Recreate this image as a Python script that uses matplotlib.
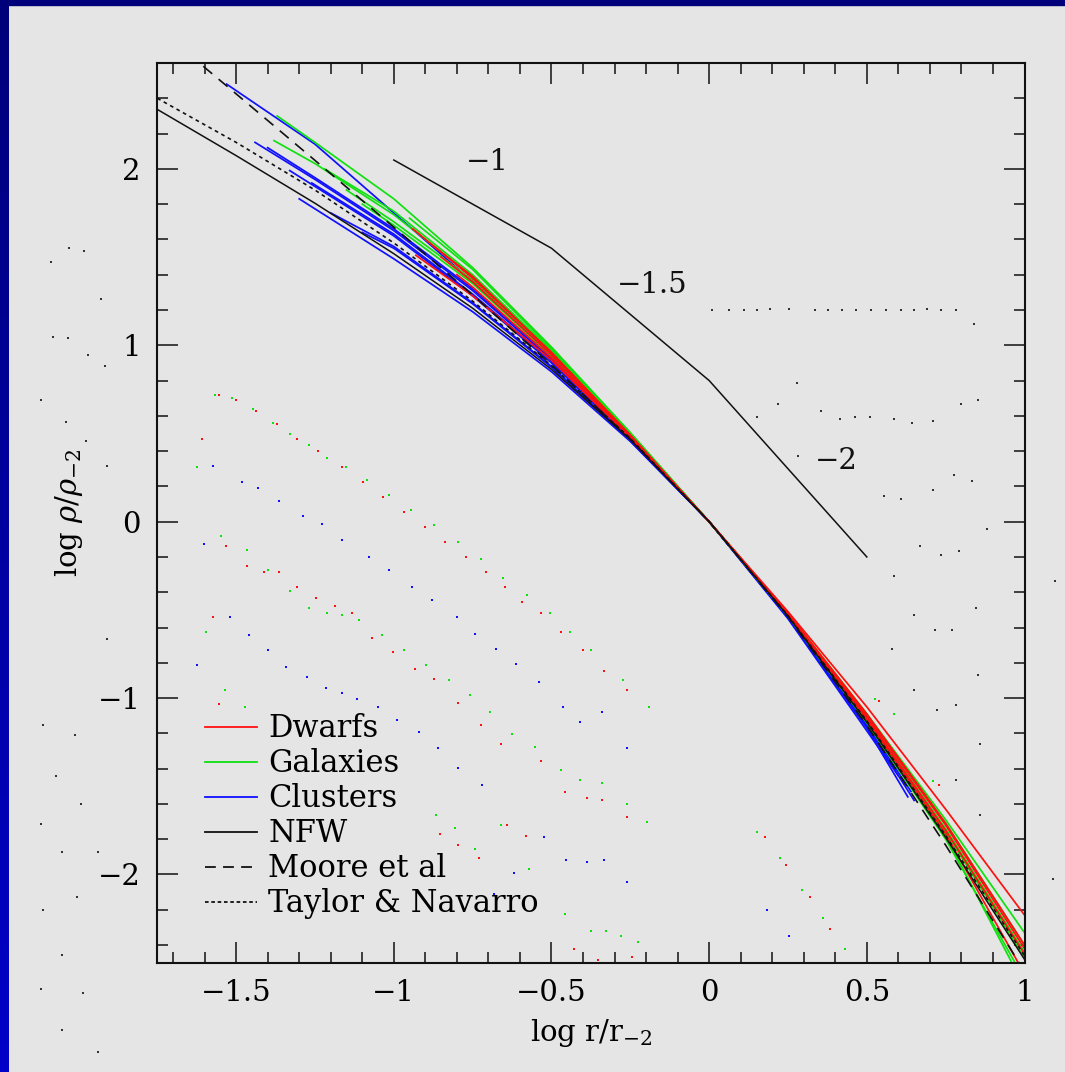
import numpy as np
import matplotlib
matplotlib.use("Agg")
import matplotlib.pyplot as plt
from matplotlib.lines import Line2D
from matplotlib.patches import Rectangle

plt.rcParams['font.family'] = ['DejaVu Serif']
plt.rcParams['mathtext.fontset'] = 'dejavuserif'

# ---------------- data (log r/r-2, log rho/rho-2) ----------------
dwarf_x = [[-0.94, -0.75, -0.5, -0.25, 0, 0.25, 0.5, 0.75, 1.0],
           [-0.93, -0.75, -0.5, -0.25, 0, 0.25, 0.5, 0.75, 1.0],
           [-0.85, -0.75, -0.5, -0.25, 0, 0.25, 0.5, 0.75, 1.0],
           [-0.80, -0.75, -0.5, -0.25, 0, 0.25, 0.5, 0.75, 0.98],
           [-0.88, -0.75, -0.5, -0.25, 0, 0.25, 0.5, 0.75, 1.0]]
dwarf_y = [[1.66, 1.38, 0.96, 0.49, 0, -0.51, -1.05, -1.63, -2.23],
           [1.51, 1.28, 0.915, 0.475, 0, -0.52, -1.09, -1.71, -2.40],
           [1.50, 1.36, 0.945, 0.485, 0, -0.525, -1.11, -1.75, -2.45],
           [1.40, 1.33, 0.93, 0.48, 0, -0.53, -1.12, -1.77, -2.50],
           [1.57, 1.39, 0.955, 0.49, 0, -0.52, -1.10, -1.72, -2.42]]

galaxy_x = [[-1.37, -1.25, -1.0, -0.75, -0.5, -0.25, 0, 0.25, 0.5, 0.75, 1.0],
            [-1.38, -1.25, -1.0, -0.75, -0.5, -0.25, 0, 0.25, 0.5, 0.75, 1.0],
            [-1.22, -1.0, -0.75, -0.5, -0.25, 0, 0.25, 0.5, 0.75, 0.96],
            [-1.10, -1.0, -0.75, -0.5, -0.25, 0, 0.25, 0.5, 0.75, 1.0],
            [-0.95, -0.75, -0.5, -0.25, 0, 0.25, 0.5, 0.75, 1.0],
            [-1.15, -1.0, -0.75, -0.5, -0.25, 0, 0.25, 0.5, 0.75, 0.97]]
galaxy_y = [[2.30, 2.15, 1.83, 1.44, 0.99, 0.505, 0, -0.52, -1.09, -1.71, -2.40],
            [2.16, 2.03, 1.74, 1.39, 0.965, 0.49, 0, -0.525, -1.11, -1.74, -2.44],
            [2.00, 1.76, 1.40, 0.97, 0.495, 0, -0.53, -1.13, -1.78, -2.50],
            [1.80, 1.68, 1.35, 0.94, 0.485, 0, -0.525, -1.115, -1.76, -2.47],
            [1.72, 1.43, 0.98, 0.50, 0, -0.52, -1.09, -1.69, -2.33],
            [1.88, 1.70, 1.37, 0.95, 0.49, 0, -0.535, -1.14, -1.80, -2.50]]

cluster_x = [[-1.53, -1.25, -1.0, -0.75, -0.5, -0.25, 0, 0.25, 0.5, 0.62],
             [-1.44, -1.25, -1.0, -0.75, -0.5, -0.25, 0, 0.25, 0.5, 0.64],
             [-1.30, -1.0, -0.75, -0.5, -0.25, 0, 0.25, 0.5, 0.63],
             [-1.20, -1.0, -0.75, -0.5, -0.25, 0, 0.25, 0.5, 0.65],
             [-1.33, -1.0, -0.75, -0.5, -0.25, 0, 0.25, 0.5, 0.60],
             [-1.26, -1.0, -0.75, -0.5, -0.25, 0, 0.25, 0.55],
             [-1.10, -1.0, -0.75, -0.5, -0.25, 0, 0.25, 0.60],
             [-1.40, -1.25, -1.0, -0.75, -0.5, -0.25, 0, 0.25, 0.5, 0.58]]
cluster_y = [[2.48, 2.14, 1.75, 1.36, 0.95, 0.49, 0, -0.53, -1.12, -1.42],
             [2.15, 1.94, 1.65, 1.31, 0.92, 0.475, 0, -0.535, -1.15, -1.53],
             [1.83, 1.49, 1.19, 0.85, 0.455, 0, -0.545, -1.17, -1.56],
             [1.75, 1.56, 1.24, 0.88, 0.465, 0, -0.54, -1.16, -1.58],
             [1.99, 1.62, 1.28, 0.90, 0.47, 0, -0.53, -1.14, -1.40],
             [1.92, 1.63, 1.29, 0.91, 0.475, 0, -0.535, -1.27],
             [1.64, 1.55, 1.235, 0.875, 0.46, 0, -0.55, -1.44],
             [2.12, 1.95, 1.66, 1.32, 0.93, 0.48, 0, -0.53, -1.13, -1.33]]

model_x = [-1.75, -1.5, -1.25, -1.0, -0.75, -0.5, -0.25, 0, 0.25, 0.5, 0.75, 1.0]
nfw_y = [2.337, 2.075, 1.805, 1.519, 1.210, 0.863, 0.465, 0, -0.535, -1.137, -1.790, -2.481]
moore_y = [2.80, 2.425, 2.048, 1.669, 1.285, 0.889, 0.468, 0, -0.539, -1.155, -1.834, -2.549]
tn_y = [2.40, 2.15, 1.88, 1.58, 1.25, 0.885, 0.472, 0, -0.533, -1.13, -1.78, -2.46]

slope_x = [-1.0, -0.5, 0.0, 0.5]
slope_y = [2.05, 1.55, 0.80, -0.20]
slope_labels = ["\u22121", "\u22121.5", "\u22122"]
slope_label_x = [-0.703, -0.182, 0.404]
slope_label_y = [2.036, 1.342, 0.343]

legend_labels = ["Dwarfs", "Galaxies", "Clusters", "NFW", "Moore et al", "Taylor & Navarro"]
xtick_vals = [-1.5, -1, -0.5, 0, 0.5, 1]
xtick_labels = ["\u22121.5", "\u22121", "\u22120.5", "0", "0.5", "1"]
ytick_vals = [-2, -1, 0, 1, 2]
ytick_labels = ["\u22122", "\u22121", "0", "1", "2"]

# stray dots seen in the picture (data units)
green_dot_x = [-1.566, -1.513, -1.448, -1.382, -1.329, -1.270, -1.211, -1.151, -1.086, -1.015, -0.945, -0.873,
               -0.796, -0.725, -0.654, -0.577, -0.505, -0.440, -0.375, -0.274, -0.192, 0.153, 0.225, 0.295,
               0.361, 0.432, 0.526, 0.586, 0.710, -1.625, -1.549, -1.466, -1.400, -1.329, -1.270, -1.211,
               -1.163, -1.110, -1.039, -0.968, -0.897, -0.825, -0.759, -0.695, -0.624, -0.552, -0.470, -0.411,
               -0.340, -0.262, -0.197, -1.596, -1.536, -1.471, -0.866, -0.807, -0.743, -0.659, -0.570, -0.457,
               -0.375, -0.327, -0.280, -0.227]
green_dot_y = [0.720, 0.700, 0.638, 0.562, 0.499, 0.435, 0.362, 0.309, 0.235, 0.150, 0.065, -0.020,
               -0.116, -0.211, -0.317, -0.413, -0.519, -0.625, -0.730, -0.900, -1.048, -1.758, -1.907, -2.087,
               -2.244, -2.425, -1.006, -1.089, -1.471, 0.309, -0.084, -0.158, -0.275, -0.392, -0.487, -0.519,
               -0.530, -0.560, -0.645, -0.730, -0.815, -0.900, -0.983, -1.080, -1.206, -1.280, -1.408, -1.462,
               -1.482, -1.599, -1.705, -0.625, -0.953, -1.048, -1.663, -1.737, -1.854, -1.717, -1.969, -2.224,
               -2.319, -2.319, -2.351, -2.383]
red_dot_x = [-1.554, -1.501, -1.436, -1.371, -1.306, -1.241, -1.163, -1.098, -1.033, -0.968, -0.902, -0.837,
             -0.771, -0.707, -0.647, -0.594, -0.534, -0.469, -0.399, -0.334, -0.262, 0.177, 0.243, 0.319,
             0.384, 0.538, 0.728, -1.607, -1.531, -1.466, -1.412, -1.364, -1.306, -1.247, -1.187, -1.134,
             -1.068, -1.004, -0.932, -0.873, -0.796, -0.725, -0.659, -0.534, -0.457, -0.387, -0.340, -0.262,
             -1.573, -1.554, -0.855, -0.796, -0.730, -0.641, -0.582, -0.428, -0.244, -0.352]
red_dot_y = [0.720, 0.689, 0.626, 0.553, 0.468, 0.403, 0.309, 0.224, 0.139, 0.054, -0.029, -0.116,
             -0.201, -0.286, -0.371, -0.454, -0.519, -0.625, -0.730, -0.847, -0.953, -1.790, -1.949, -2.128,
             -2.308, -1.016, -1.493, 0.468, -0.137, -0.254, -0.286, -0.286, -0.371, -0.434, -0.477, -0.519,
             -0.657, -0.740, -0.836, -0.889, -1.029, -1.153, -1.261, -1.356, -1.535, -1.567, -1.578, -1.673,
             -0.541, -1.036, -1.769, -1.832, -1.907, -1.717, -1.779, -2.425, -2.466, -2.487]
blue_dot_x = [-1.573, -1.482, -1.430, -1.364, -1.287, -1.228, -1.163, -1.080, -1.015, -0.943, -0.878, -0.801,
              -0.742, -0.677, -0.612, -0.541, -0.464, -0.411, -0.340, -0.262, -0.262, -0.453, -0.387, -0.334,
              -0.523, -0.618, -0.683, -1.602, -1.519, -1.459, -1.400, -1.625, -1.341, -1.275, -1.216, -1.163,
              -1.116, -1.050, -0.991, -0.919, -0.860, -0.796, -0.720, 0.182, 0.254]
blue_dot_y = [0.318, 0.224, 0.192, 0.116, 0.031, -0.011, -0.105, -0.201, -0.275, -0.371, -0.445, -0.541,
              -0.636, -0.719, -0.804, -0.910, -1.048, -1.133, -1.080, -1.282, -2.043, -1.917, -1.928, -1.917,
              -1.790, -1.990, -2.108, -0.128, -0.541, -0.645, -0.730, -0.815, -0.824, -0.878, -0.942, -0.974,
              -1.004, -1.048, -1.123, -1.195, -1.282, -1.397, -1.493, -2.202, -2.349]
black_dot_x = [0.010, 0.064, 0.111, 0.153, 0.194, 0.253, 0.336, 0.378, 0.420, 0.466, 0.514, 0.562, 0.608,
               0.650, 0.692, 0.734, 0.782, 0.841, 0.277, 0.218, 0.153, 0.355, 0.414, 0.461, 0.509, 0.585,
               0.644, 0.710, 0.798, 0.852, 0.283, 0.555, 0.609, 0.710, 0.775, 0.834, 0.882, 0.668, 0.734,
               0.793, 0.586, 1.097, 0.846, 0.650, 0.716, 0.770, 0.580, 0.852, 0.650, 0.722, 0.782, 0.859,
               0.782, 0.859, 1.089,
               -2.029, -1.982, -2.088, -1.928, -2.082, -2.034, -1.970, -1.915, -2.118, -2.041, -1.975, -1.910,
               -1.910, -2.112, -2.010, -2.070, -1.993, -2.118, -2.052, -1.939, -2.005, -2.112, -2.052, -2.118,
               -1.987, -2.052, -1.939]
black_dot_y = [1.199, 1.199, 1.199, 1.199, 1.208, 1.208, 1.199, 1.199, 1.199, 1.199, 1.199, 1.199, 1.199,
               1.199, 1.208, 1.199, 1.199, 1.123, 0.785, 0.668, 0.596, 0.626, 0.584, 0.596, 0.596, 0.584,
               0.562, 0.573, 0.668, 0.690, 0.373, 0.148, 0.128, 0.180, 0.265, 0.233, -0.043, -0.137, -0.190,
               -0.169, -0.307, -0.339, -0.487, -0.528, -0.613, -0.613, -0.721, -0.868, -0.953, -1.068, -1.038,
               -1.261, -1.462, -1.662, -2.023,
               1.550, 1.536, 1.474, 1.263, 1.049, 1.040, 0.945, 0.881, 0.690, 0.564, 0.458, 0.318,
               -0.666, -1.153, -1.208, -1.440, -1.599, -1.714, -1.873, -1.873, -2.128, -2.202, -2.457, -2.648,
               -2.669, -2.880, -3.006]

# ---------------- colours / styles ----------------
RED, GREEN, BLUE, BLACK = "#ff1010", "#10e010", "#1010ff", "#111111"
GREY_BG = "#e5e5e5"
moore_ls = (0, (7, 5))
tn_ls = (0, (2.2, 2.2))
FS = 21
LFS = 22

fig = plt.figure(figsize=(10.65, 10.72), dpi=100)
fig.patch.set_facecolor(GREY_BG)

# blue slide border (left gradient strip and top strip)
strip = fig.add_axes([0, 0, 9 / 1065, 1])
strip.imshow(np.linspace(0, 1, 256).reshape(-1, 1), aspect='auto',
             cmap=matplotlib.colors.LinearSegmentedColormap.from_list("b", ["#00007a", "#0000c8"]),
             extent=[0, 1, 0, 1])
strip.set_axis_off()
fig.patches.append(Rectangle((0, 1 - 5 / 1072), 1, 5 / 1072, transform=fig.transFigure,
                             color="#00007a", zorder=0))

ax = fig.add_axes([157.3 / 1065, 1 - 962.7 / 1072, 867.2 / 1065, 899.7 / 1072])
ax.set_facecolor(GREY_BG)
ax.set_xlim(-1.75, 1.0)
ax.set_ylim(-2.5, 2.6)

LW = 1.25
for xs, ys in zip(cluster_x, cluster_y):
    ax.plot(xs, ys, color=BLUE, lw=LW, zorder=2)
for xs, ys in zip(galaxy_x, galaxy_y):
    ax.plot(xs, ys, color=GREEN, lw=LW, zorder=2)
for xs, ys in zip(dwarf_x, dwarf_y):
    ax.plot(xs, ys, color=RED, lw=LW, zorder=2)

ax.plot(model_x, nfw_y, color=BLACK, lw=1.1, zorder=3)
ax.plot(model_x, moore_y, color=BLACK, lw=1.2, ls=moore_ls, zorder=3)
ax.plot(model_x, tn_y, color=BLACK, lw=1.2, ls=tn_ls, zorder=3)

ax.plot(slope_x, slope_y, color=BLACK, lw=1.1, zorder=3)
for t, tx, ty in zip(slope_labels, slope_label_x, slope_label_y):
    ax.text(tx, ty, t, fontsize=FS, ha='center', va='center', color=BLACK)

dot_kw = dict(marker='s', s=3.5, linewidths=0, clip_on=False, zorder=1)
ax.scatter(green_dot_x, green_dot_y, color=GREEN, **dot_kw)
ax.scatter(red_dot_x, red_dot_y, color=RED, **dot_kw)
ax.scatter(blue_dot_x, blue_dot_y, color=BLUE, **dot_kw)
ax.scatter(black_dot_x, black_dot_y, color="#333333", **dot_kw)

# ticks
ax.set_xticks(xtick_vals)
ax.set_xticklabels(xtick_labels)
ax.set_yticks(ytick_vals)
ax.set_yticklabels(ytick_labels)
ax.xaxis.set_minor_locator(matplotlib.ticker.MultipleLocator(0.1))
ax.yaxis.set_minor_locator(matplotlib.ticker.MultipleLocator(0.2))
ax.tick_params(which='both', direction='in', top=True, right=True, color=BLACK, width=1.1)
ax.tick_params(which='major', length=15, labelsize=FS, pad=12)
ax.tick_params(which='minor', length=8)
for sp in ax.spines.values():
    sp.set_linewidth(1.5)
    sp.set_color(BLACK)

ax.set_xlabel("log r/r$_{\u22122}$", fontsize=FS, labelpad=7)
ax.set_ylabel("log $\\rho/\\rho_{\u22122}$", fontsize=FS, labelpad=9)

handles = [Line2D([], [], color=RED, lw=1.3), Line2D([], [], color=GREEN, lw=1.3),
           Line2D([], [], color=BLUE, lw=1.3), Line2D([], [], color=BLACK, lw=1.3),
           Line2D([], [], color=BLACK, lw=1.3, ls=(0, (6, 4))),
           Line2D([], [], color=BLACK, lw=1.3, ls=(0, (2, 1.5)))]
ax.legend(handles, legend_labels, loc='upper left', bbox_to_anchor=(0.055, 0.277),
          frameon=False, fontsize=LFS, handlelength=1.7, handletextpad=0.37,
          labelspacing=0.13, borderpad=0, borderaxespad=0)

fig.savefig("out.png", dpi=100, facecolor=fig.get_facecolor())
